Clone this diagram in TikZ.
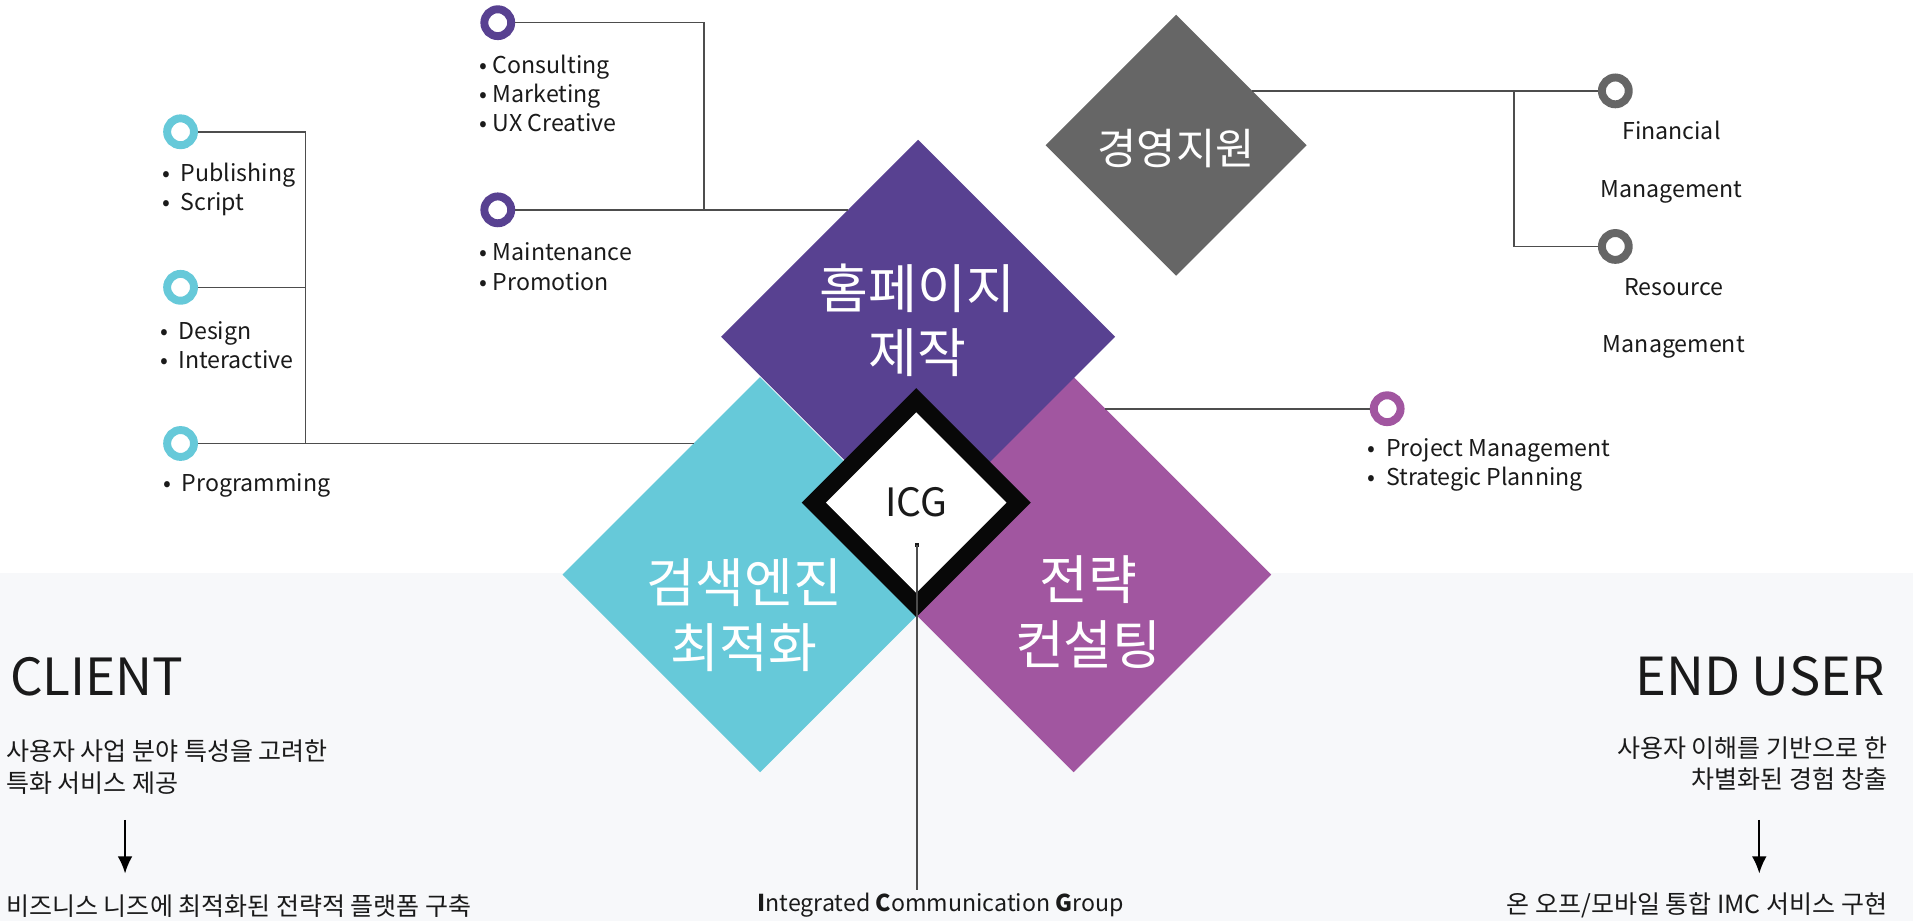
\documentclass[tikz,border=0pt]{standalone}
\usepackage{fontspec}
\setmainfont{Noto Sans CJK KR}
\usepackage{tikz}
\usetikzlibrary{shapes.geometric, arrows.meta}

\definecolor{hpPurple}{HTML}{584191}
\definecolor{seoCyan}{HTML}{66C9D9}
\definecolor{stMagenta}{HTML}{A156A0}
\definecolor{mgGray}{HTML}{666666}
\definecolor{lineGray}{HTML}{4D4D4D}
\definecolor{bandGray}{HTML}{F7F8FA}
\definecolor{inkBlack}{HTML}{1A1A1A}
\newcommand{\Fs}[2]{\fontsize{#1}{#2}\selectfont}

\begin{document}
\begin{tikzpicture}[x=1pt, y=-1pt, >={Latex[length=14pt, width=12pt]},
    every node/.style={text=inkBlack},
    dia/.style={diamond, inner sep=0, minimum width=#1, minimum height=#1},
    ring/.style={circle, draw=#1, line width=6.5pt, fill=white, minimum size=22pt, inner sep=0},
    conn/.style={draw=lineGray, line width=1.3pt},
    itemText/.style={anchor=west, align=left, inner sep=0, font=\Fs{19}{24}},
    diaText/.style={text=white, align=center, inner sep=0, font=\Fs{43.5}{53}}]

    \useasboundingbox (0,0) rectangle (1568,755);
    \fill[bandGray] (0,470) rectangle (1568,755);

    % diamonds
    \node[dia=324pt, fill=seoCyan] (seo) at (623,471) {};
    \node[dia=324pt, fill=stMagenta] (st) at (880,471) {};
    \node[dia=323pt, fill=hpPurple] (hp) at (752.5,276) {};
    \node[dia=214pt, fill=mgGray] (mg) at (964,119) {};
    \node[dia=188pt, fill=black!97] (icgFrame) at (751,412) {};
    \node[dia=148pt, fill=white, font=\Fs{32}{32}] (icg) at (751,412) {ICG};

    \node[diaText] (hpTxt) at (752,262.5) {홈페이지\\제작};
    \node[diaText] (seoTxt) at (610,504) {검색엔진\\최적화};
    \node[diaText] (stTxt) at (892,501.5) {전략\\컨설팅};
    \node[diaText, font=\Fs{35}{35}] (mgTxt) at (964,122) {경영지원};

    % joints of the connectors
    \coordinate (pubJ) at (250.5,108);
    \coordinate (prgJ) at (250.5,363.5);
    \coordinate (seoEdge) at (568.5,363.5);
    \coordinate (cslJ) at (577,18.6);
    \coordinate (hpEdge) at (695,172);
    \coordinate (mgEdge) at (1026,74.5);
    \coordinate (mgJ) at (1241,74.5);
    \coordinate (stEdge) at (906,335);

    \node[ring=seoCyan] (pub) at (148,108) {};
    \node[ring=seoCyan] (dsn) at (148,235.5) {};
    \node[ring=seoCyan] (prg) at (148,363.5) {};
    \node[ring=hpPurple] (csl) at (408,18.6) {};
    \node[ring=hpPurple] (mnt) at (408,172) {};
    \node[ring=mgGray] (fin) at (1324,74.5) {};
    \node[ring=mgGray] (res) at (1324,202) {};
    \node[ring=stMagenta] (pm) at (1137,335) {};

    \draw[conn] (pub) -- (pubJ) -- (prgJ);
    \draw[conn] (dsn) -- (dsn -| pubJ);
    \draw[conn] (prg) -- (seoEdge);
    \draw[conn] (csl) -- (cslJ) -- (cslJ |- mnt);
    \draw[conn] (mnt) -- (hpEdge);
    \draw[conn] (mgEdge) -- (fin);
    \draw[conn] (mgJ) |- (res);
    \draw[conn] (stEdge) -- (pm);

    \node[itemText] (pubTxt) at (133,155.5) {•~~Publishing\\•~~Script};
    \node[itemText] (dsnTxt) at (131,283) {•~~Design\\•~~Interactive};
    \node[itemText] (prgTxt) at (134,398) {•~~Programming};
    \node[itemText] (cslTxt) at (393,76.5) {•~Consulting\\•~Marketing\\•~UX Creative};
    \node[itemText] (mntTxt) at (393,218.5) {•~Maintenance\\•~Promotion};
    \node[itemText] (pmTxt) at (1121,381) {•~~Project Management\\•~~Strategic Planning};
    \node[itemText, anchor=center, align=center, font=\Fs{19}{48}] (finTxt) at (1370,133) {Financial\\Management};
    \node[itemText, anchor=center, align=center, font=\Fs{19}{47}] (resTxt) at (1372,261) {Resource\\Management};

    % client side
    \node[anchor=west, inner sep=0, font=\Fs{42}{42}] (cli) at (8,555) {CLIENT};
    \node[anchor=west, align=left, inner sep=0, font=\Fs{20.5}{26}] (cliNeed) at (5,628.5) {사용자 사업 분야 특성을 고려한\\특화 서비스 제공};
    \node[anchor=west, inner sep=0, font=\Fs{20.5}{26}] (cliGoal) at (5,743) {비즈니스 니즈에 최적화된 전략적 플랫폼 구축};
    \coordinate (cliA) at (102.5,672);
    \coordinate (cliB) at (102.5,716);
    \draw[->, line width=1.6pt] (cliA) -- (cliB);

    % end user side
    \node[anchor=east, inner sep=0, font=\Fs{43}{43}] (usr) at (1545,554) {END USER};
    \node[anchor=east, align=right, inner sep=0, font=\Fs{20.5}{26}] (usrNeed) at (1547,626) {사용자 이해를 기반으로 한\\차별화된 경험 창출};
    \node[anchor=east, inner sep=0, font=\Fs{20.5}{26}] (usrGoal) at (1547,742) {온 오프/모바일 통합 IMC 서비스 구현};
    \coordinate (usrA) at (1442,672);
    \coordinate (usrB) at (1442,716);
    \draw[->, line width=1.6pt] (usrA) -- (usrB);

    % ICG stem
    \node[fill=inkBlack, minimum size=4pt, inner sep=0] (icgDot) at (751.6,446.7) {};
    \node[inner sep=2pt, font=\Fs{19}{24}] (icgLbl) at (771,742) {\textbf{I}ntegrated \textbf{C}ommunication \textbf{G}roup};
    \draw[conn] (icgDot.center) -- (icgDot |- icgLbl.north);

\end{tikzpicture}
\end{document}
